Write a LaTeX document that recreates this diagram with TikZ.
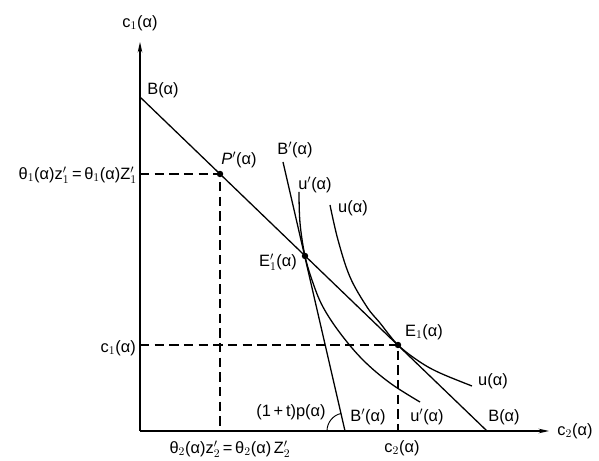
\documentclass[tikz,border=0pt]{standalone}
\usepackage{fontspec}
\setmainfont{Liberation Sans}
\usetikzlibrary{arrows.meta}
\begin{document}
\begin{tikzpicture}[x=0.03cm,y=0.03cm,
  lbl/.style={inner sep=0pt,font=\fontsize{14}{16}\selectfont},
  axisline/.style={line width=1.1pt,-{Stealth[length=9pt,width=4pt]}},
  budget/.style={line width=1.1pt},
  icurve/.style={line width=1.1pt},
  guide/.style={line width=0.9pt,dash pattern=on 8pt off 4.5pt},
  dotpt/.style={circle,fill=black,inner sep=0pt,minimum size=5.5pt}]
\useasboundingbox (0,0) rectangle (599,461);
% axes
\coordinate (O) at (140,30);
\coordinate (Ytop) at (140,419);
\coordinate (Xend) at (549,30);
\draw[axisline] (O) -- (Ytop);
\draw[axisline] (O) -- (Xend);
% budget line B
\coordinate (Btop) at (140,364);
\coordinate (Bbot) at (487,30);
\draw[budget] (Btop) -- (Bbot);
% budget line B'
\coordinate (Bptop) at (283,299);
\coordinate (Bpbot) at (345,30);
\draw[budget] (Bptop) -- (Bpbot);
% points
\node[dotpt] (P) at (220,287) {};
\node[dotpt] (E1p) at (305,205) {};
\node[dotpt] (E1) at (398,116) {};
% indifference curves
\draw[icurve] plot[smooth,tension=0.6] coordinates {(299,269) (300,238) (305,205) (313,178) (323,154) (340,128) (363,101) (390,78) (420,59)};
\draw[icurve] plot[smooth,tension=0.6] coordinates {(330,256) (338,221) (350,184) (367,154) (380,138) (398,116) (420,99) (440,88) (472,75)};
% guides
\coordinate (Pl) at (140,287);
\coordinate (Pb) at (220,30);
\coordinate (El) at (140,116);
\coordinate (Eb) at (398,30);
\draw[guide] (Pl) -- (P.center) -- (Pb);
\draw[guide] (El) -- (E1.center) -- (Eb);
% angle arc
\draw[line width=0.8pt] (Bpbot) ++(180:18) arc[start angle=180,end angle=103,radius=18];
% labels
\node[lbl] (lc1) at (140,438) {c$_1$(α)};
\node[lbl] (lB1) at (163,371) {B(α)};
\node[lbl] (lP) at (239,301) {\textit{P}$'$(α)};
\node[lbl,anchor=east] (lth1) at (137,286) {θ$_1$(α)z$_1'$\,=\,θ$_1$(α)Z$_1'$};
\node[lbl] (lBp1) at (295,311) {B$'$(α)};
\node[lbl] (lup1) at (315,276) {u$'$(α)};
\node[lbl] (lu1) at (353,253) {u(α)};
\node[lbl] (lE1p) at (278,199) {E$_1'$(α)};
\node[lbl] (lE1) at (424,129) {E$_1$(α)};
\node[lbl,anchor=east] (lc1b) at (136,113) {c$_1$(α)};
\node[lbl] (lu2) at (493,80) {u(α)};
\node[lbl] (lB2) at (504,44) {B(α)};
\node[lbl] (lup2) at (427,44) {u$'$(α)};
\node[lbl] (lBp2) at (368,44) {B$'$(α)};
\node[lbl] (lt) at (291,49) {(1\,+\,t)p(α)};
\node[lbl] (lc2) at (575,30) {c$_2$(α)};
\node[lbl] (lc2b) at (402,13) {c$_2$(α)};
\node[lbl] (lth2) at (230,12) {θ$_2$(α)z$_2'$\,=\,θ$_2$(α)\,Z$_2'$};
\end{tikzpicture}
\end{document}
